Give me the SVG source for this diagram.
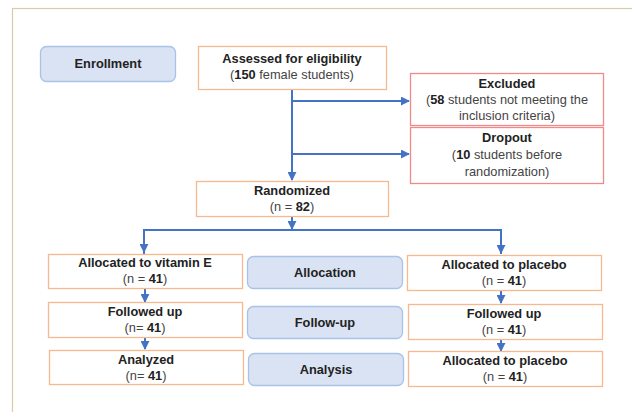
<svg xmlns="http://www.w3.org/2000/svg" width="632" height="412" viewBox="0 0 632 412">
<defs>
<style>
.frame{fill:#fff;stroke:#d6cda8;stroke-width:1.2}
.ob{fill:#fff;stroke:#f6b98f;stroke-width:1.3}
.rb{fill:#fff;stroke:#f08a8a;stroke-width:1.3}
.bb{fill:#dae3f3;stroke:#a9c2e8;stroke-width:1.3}
.t{font-family:"Liberation Sans",Arial,sans-serif;font-size:12.8px;text-anchor:middle;fill:#222}
.b{font-weight:bold}
.n{fill:#444}
.n tspan{font-weight:bold;fill:#222}
.c{fill:none;stroke:#4472c4;stroke-width:2}
</style>
<marker id="ah" viewBox="0 0 10 10" refX="9" refY="5" markerWidth="4.5" markerHeight="4.5" orient="auto" markerUnits="strokeWidth">
<path d="M0,0 L10,5 L0,10 z" fill="#4472c4"/>
</marker>
</defs>
<rect class="frame" x="12.5" y="8.5" width="630" height="420"/>
<g id="connectors">
<path class="c" d="M292,89 V180" marker-end="url(#ah)"/>
<path class="c" d="M292,101 H409" marker-end="url(#ah)"/>
<path class="c" d="M292,154 H409" marker-end="url(#ah)"/>
<path class="c" d="M292,216 V229" marker-end="url(#ah)"/>
<path class="c" d="M144,254 V230 H501 V254"/>
<path class="c" d="M144,231 V252" marker-end="url(#ah)"/>
<path class="c" d="M501,231 V253" marker-end="url(#ah)"/>
<path class="c" d="M145,288 V302" marker-end="url(#ah)"/>
<path class="c" d="M145,337 V349" marker-end="url(#ah)"/>
<path class="c" d="M501,290 V303" marker-end="url(#ah)"/>
<path class="c" d="M501,339 V351" marker-end="url(#ah)"/>
</g>
<g id="enrollment">
<rect class="bb" x="40.5" y="46.5" width="135" height="35" rx="6"/>
<text class="t b" x="108" y="68">Enrollment</text>
</g>
<g id="assessed">
<rect class="ob" x="198.5" y="46.5" width="188" height="43"/>
<text class="t b" x="292" y="63">Assessed for eligibility</text>
<text class="t n" x="292" y="79">(<tspan>150</tspan> female students)</text>
</g>
<g id="excluded">
<rect class="rb" x="410.5" y="73.5" width="193" height="52"/>
<text class="t b" x="507" y="88">Excluded</text>
<text class="t n" x="507" y="104">(<tspan>58</tspan> students not meeting the</text>
<text class="t n" x="507" y="120">inclusion criteria)</text>
</g>
<g id="dropout">
<rect class="rb" x="410.5" y="127.5" width="193" height="56"/>
<text class="t b" x="507" y="142">Dropout</text>
<text class="t n" x="507" y="159">(<tspan>10</tspan> students before</text>
<text class="t n" x="507" y="176">randomization)</text>
</g>
<g id="randomized">
<rect class="ob" x="196.5" y="181.5" width="192" height="35"/>
<text class="t b" x="292" y="195">Randomized</text>
<text class="t n" x="292" y="211">(n = <tspan>82</tspan>)</text>
</g>
<g id="alloc-vitE">
<rect class="ob" x="48.5" y="254.5" width="194" height="34"/>
<text class="t b" x="145" y="267">Allocated to vitamin E</text>
<text class="t n" x="145" y="283">(n = <tspan>41</tspan>)</text>
</g>
<g id="allocation">
<rect class="bb" x="247.5" y="256.5" width="155" height="32" rx="6"/>
<text class="t b" x="325" y="277">Allocation</text>
</g>
<g id="alloc-placebo">
<rect class="ob" x="407.5" y="255.5" width="194" height="35"/>
<text class="t b" x="504" y="269">Allocated to placebo</text>
<text class="t n" x="504" y="285">(n = <tspan>41</tspan>)</text>
</g>
<g id="follow-vitE">
<rect class="ob" x="48.5" y="302.5" width="194" height="35"/>
<text class="t b" x="145" y="316">Followed up</text>
<text class="t n" x="145" y="332">(n= <tspan>41</tspan>)</text>
</g>
<g id="followup">
<rect class="bb" x="247.5" y="306.5" width="155" height="32" rx="6"/>
<text class="t b" x="325" y="327">Follow-up</text>
</g>
<g id="follow-placebo">
<rect class="ob" x="408.5" y="304.5" width="194" height="35"/>
<text class="t b" x="504" y="318">Followed up</text>
<text class="t n" x="504" y="334">(n = <tspan>41</tspan>)</text>
</g>
<g id="analyzed-vitE">
<rect class="ob" x="49.5" y="350.5" width="194" height="34"/>
<text class="t b" x="146" y="364">Analyzed</text>
<text class="t n" x="146" y="380">(n= <tspan>41</tspan>)</text>
</g>
<g id="analysis">
<rect class="bb" x="248.5" y="353.5" width="155" height="32" rx="6"/>
<text class="t b" x="326" y="374">Analysis</text>
</g>
<g id="analyzed-placebo">
<rect class="ob" x="408.5" y="351.5" width="194" height="35"/>
<text class="t b" x="505" y="365">Allocated to placebo</text>
<text class="t n" x="505" y="381">(n = <tspan>41</tspan>)</text>
</g>
</svg>
